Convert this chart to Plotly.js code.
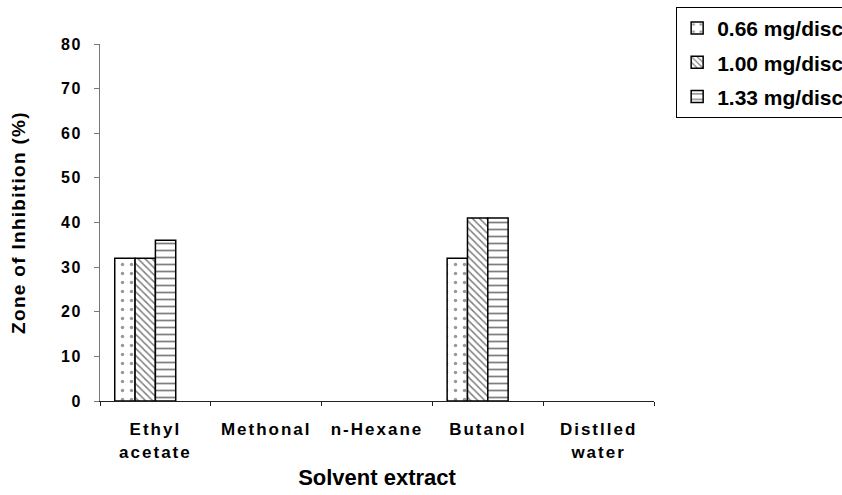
<!DOCTYPE html>
<html><head><meta charset="utf-8">
<script src="https://cdn.plot.ly/plotly-3.0.1.min.js"></script>
<style>
body{margin:0;background:#fff}#c{width:842px;height:495px}
.xtick text{letter-spacing:2px}
.ytick text{letter-spacing:1.5px}
.g-ytitle text{letter-spacing:1.3px}
</style>
</head><body><div id="c"></div>
<script>
const categories = ["Ethyl<br>acetate", "Methonal", "n-Hexane", "Butanol", "Distlled<br>water"];
const seriesNames = ["0.66 mg/disc", "1.00 mg/disc", "1.33 mg/disc"];
const s066 = [32, 0, 0, 32, 0];
const s100 = [32, 0, 0, 41, 0];
const s133 = [36, 0, 0, 41, 0];
const yTicks = [0, 10, 20, 30, 40, 50, 60, 70, 80];

const patterns = [
  {shape: ".", fgcolor: "#333", bgcolor: "#fff", size: 9, solidity: 0.12, fillmode: "overlay"},
  {shape: "\\", fgcolor: "#000", bgcolor: "#fff", size: 5, solidity: 0.3, fillmode: "overlay"},
  {shape: "-", fgcolor: "#000", bgcolor: "#fff", size: 7, solidity: 0.25, fillmode: "overlay"}
];
const barWidth = 0.1835;
const offsets = [-0.367, -0.1835, 0];
const vals = [s066, s100, s133];
const data = vals.map((v, i) => ({
  type: "bar", x: categories, y: v, name: seriesNames[i],
  legendgroup: "g" + i, width: barWidth, offset: offsets[i],
  marker: {color: "#fff", pattern: patterns[i],
           line: {color: "#000", width: v.map(d => d > 0 ? 1.5 : 0)}}
}));
const fam = "Liberation Sans, Arial, sans-serif";
const layout = {
  width: 842, height: 495,
  margin: {l: 100, r: 188, t: 44, b: 94, autoexpand: false},
  paper_bgcolor: "#fff", plot_bgcolor: "#fff",
  barmode: "group",
  font: {family: fam, color: "#000"},
  showlegend: true,
  legend: {x: 1.04, y: 1.104, xanchor: "left", yanchor: "top", bordercolor: "#000", borderwidth: 1,
           font: {family: fam, size: 21, color: "#000", weight: "bold"},
           traceorder: "grouped", tracegroupgap: 4},
  xaxis: {
    type: "category", showline: true, linecolor: "#222", linewidth: 1,
    ticks: "outside", tickson: "boundaries", ticklen: 4, tickcolor: "#222",
    ticklabelstandoff: 13,
    tickfont: {family: fam, size: 17, color: "#000", weight: "bold"},
    title: {text: "Solvent extract", font: {family: fam, size: 22, color: "#000", weight: "bold"}, standoff: 9},
    showgrid: false, zeroline: false
  },
  yaxis: {
    range: [0, 80], tickvals: yTicks, showline: true, linecolor: "#777", linewidth: 1,
    ticks: "outside", ticklen: 5, tickcolor: "#777",
    ticklabelstandoff: 9,
    tickfont: {family: fam, size: 16, color: "#000", weight: "bold"},
    title: {text: "Zone of Inhibition (%)", font: {family: fam, size: 19, color: "#000", weight: "bold"}, standoff: 30},
    showgrid: false, zeroline: false
  }
};
Plotly.newPlot("c", data, layout, {displayModeBar: false, staticPlot: true});
</script>
</body></html>
